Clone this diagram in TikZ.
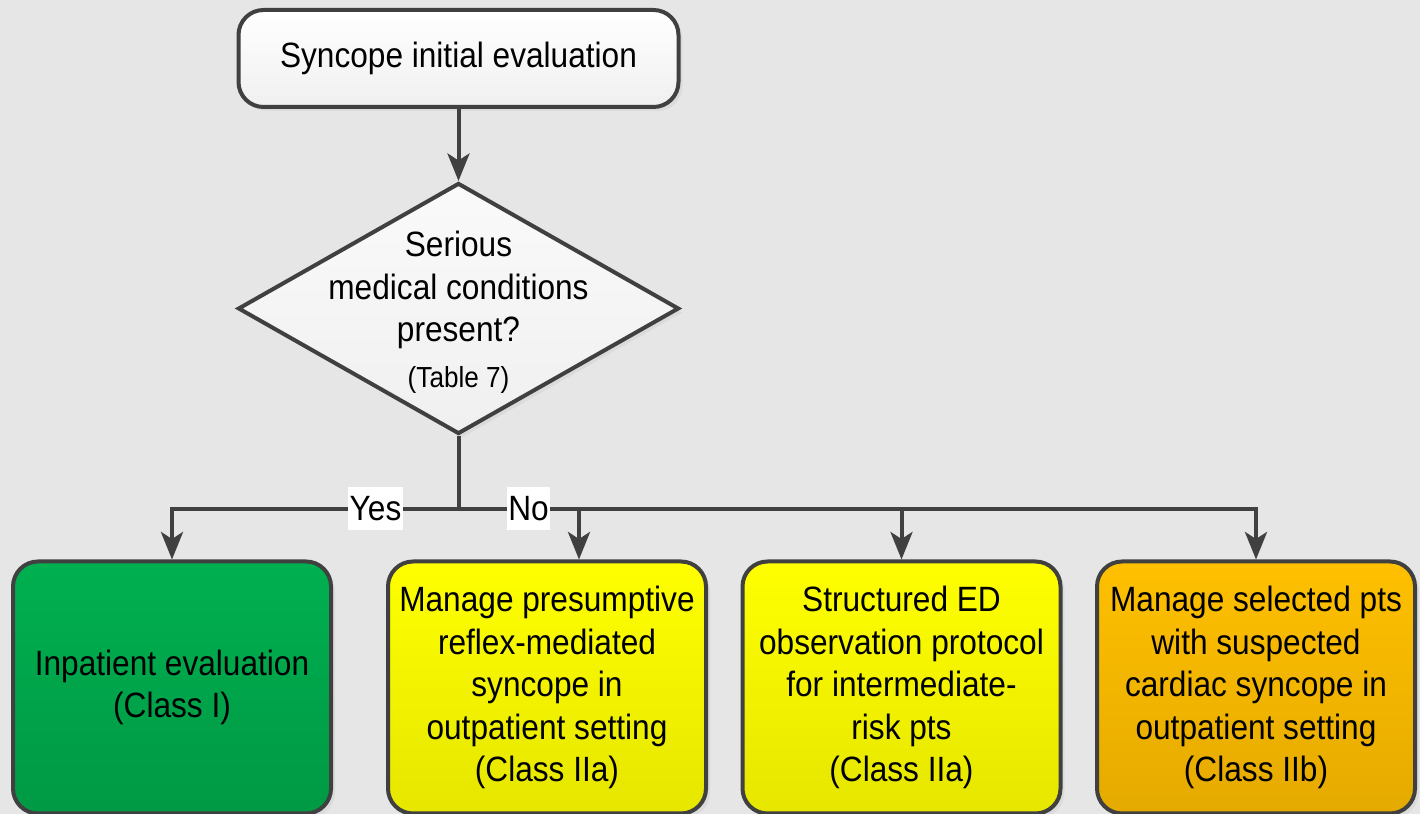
\documentclass[tikz,border=0pt]{standalone}
\usepackage{fontspec}
\setmainfont{Liberation Sans}[FakeStretch=0.9]
\usetikzlibrary{positioning}
\usetikzlibrary{shapes.geometric, arrows.meta}
\usetikzlibrary{shadows}

\definecolor{bgGray}{HTML}{E6E6E6}
\definecolor{edgeGray}{HTML}{404040}
\definecolor{greenTop}{HTML}{00B050}
\definecolor{greenBot}{HTML}{009944}
\definecolor{yellowTop}{HTML}{FFFF00}
\definecolor{yellowBot}{HTML}{E6E600}
\definecolor{orangeTop}{HTML}{FFC000}
\definecolor{orangeBot}{HTML}{E5AA00}

\begin{document}
\begin{tikzpicture}[
        font=\fontsize{20}{24.2}\selectfont,
        outcome/.style={rectangle, rounded corners=0.5cm, draw=edgeGray, line width=0.08cm,
            minimum width=6.36cm, minimum height=5.04cm, inner sep=0pt, align=center,
            drop shadow={shadow xshift=0.08cm, shadow yshift=-0.08cm, opacity=0.1}},
        startbox/.style={outcome, minimum width=8.8cm, minimum height=1.94cm,
            top color=white, bottom color=black!6},
        decision/.style={diamond, draw=edgeGray, line width=0.08cm, minimum width=8.82cm,
            minimum height=5.02cm, inner sep=0pt, top color=black!2, bottom color=black!6,
            drop shadow={shadow xshift=0.08cm, shadow yshift=-0.08cm, opacity=0.1}},
        wire/.style={draw=edgeGray, line width=0.08cm},
        arrowwire/.style={wire, -{Stealth[length=0.55cm, width=0.44cm, inset=0.14cm]}},
        answer/.style={fill=white, inner xsep=1pt, inner ysep=0pt, minimum height=0.86cm}
    ]
        % Background
        \fill[bgGray] (0,0) rectangle (28.4,16.28);
        \useasboundingbox (0,0) rectangle (28.4,16.28);
        % Start and decision
        \node[startbox] (initial) at (9.17,15.11) {Syncope initial evaluation};
        \node[decision] (serious) at (9.17,10.11) {};
        \node[align=center] (seriousText) at (9.17,10.03)
            {Serious\\medical conditions\\present?\\[2pt]{\fontsize{16.5}{20}\selectfont (Table 7)}};
        % Outcomes
        \node[outcome, top color=greenTop, bottom color=greenBot] (inpatient) at (3.44,2.53)
            {Inpatient evaluation\\(Class I)};
        \node[outcome, top color=yellowTop, bottom color=yellowBot] (reflex) at (10.94,2.53)
            {Manage presumptive\\reflex-mediated\\syncope in\\outpatient setting\\(Class IIa)};
        \node[outcome, top color=yellowTop, bottom color=yellowBot] (observe) at (18.03,2.53)
            {Structured ED\\observation protocol\\for intermediate-\\risk pts\\(Class IIa)};
        \node[outcome, top color=orangeTop, bottom color=orangeBot] (cardiac) at (25.12,2.53)
            {Manage selected pts\\with suspected\\cardiac syncope in\\outpatient setting\\(Class IIb)};
        % Connectors
        \coordinate (split) at (9.17,6.10);
        \draw[arrowwire] (initial.south) -- (serious.north);
        \draw[wire] (serious.south) -- (split);
        \draw[arrowwire] (split) -| (inpatient.north);
        \draw[arrowwire] (split) -| ([xshift=0.64cm]reflex.north);
        \draw[arrowwire] (split) -| (observe.north);
        \draw[arrowwire] (split) -| (cardiac.north);
        % Answers
        \node[answer] (yes) at (7.51,6.10) {Yes};
        \node[answer] (no) at (10.57,6.10) {No};
    \end{tikzpicture}
\end{document}
